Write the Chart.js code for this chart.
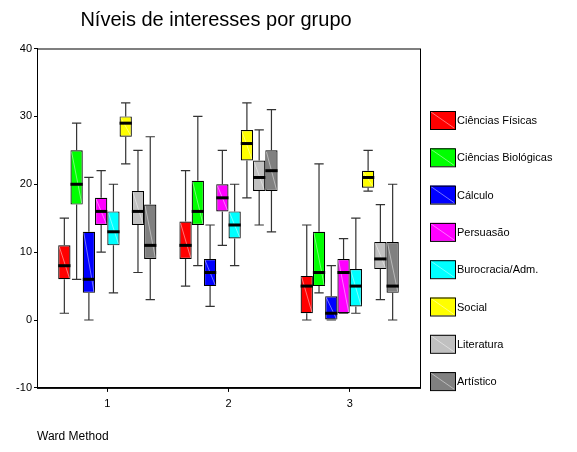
<!DOCTYPE html>
<html>
<head>
<meta charset="utf-8">
<script src="https://cdn.jsdelivr.net/npm/chart.js@4.4.1/dist/chart.umd.min.js"></script>
<style>
  html, body { margin: 0; padding: 0; background: #fff; }
  #wrap { width: 577px; height: 452px; }
</style>
</head>
<body>
<div id="wrap"><canvas id="grafico"></canvas></div>
<script>
// grupos do Ward Method (eixo x)
const grupos = [1, 2, 3];
// marcas do eixo y
const marcasY = [-10, 0, 10, 20, 30, 40];

// [mínimo, Q1, mediana, Q3, máximo] por grupo
const cienciasFisicas    = [[1, 6, 8, 11, 15],   [5, 9, 11, 14.5, 22],   [0, 1, 5, 6.5, 14]];
const cienciasBiologicas = [[6, 17, 20, 25, 29], [8, 14, 16, 20.5, 30],  [4, 5, 7, 13, 23]];
const calculo            = [[0, 4, 6, 13, 21],   [2, 5, 7, 9, 14],       [0, 0, 1, 3.5, 8]];
const persuasao          = [[10, 14, 16, 18, 22],[11, 16, 18, 20, 25],   [1, 1, 7, 9, 12]];
const burocracia         = [[4, 11, 13, 16, 20], [8, 12, 14, 16, 20],    [1, 2, 5, 7.5, 15]];
const social             = [[23, 27, 29, 30, 32],[18, 23.5, 26, 28, 32], [19, 19.5, 21, 22, 25]];
const literatura         = [[7, 14, 16, 19, 25], [14, 19, 21, 23.5, 28], [3, 7.5, 9, 11.5, 17]];
const artistico          = [[3, 9, 11, 17, 27],  [13, 19, 22, 25, 31],   [0, 4, 5, 11.5, 20]];

const nomes = ['Ciências Físicas', 'Ciências Biológicas', 'Cálculo', 'Persuasão',
               'Burocracia/Adm.', 'Social', 'Literatura', 'Artístico'];
const series = [cienciasFisicas, cienciasBiologicas, calculo, persuasao,
                burocracia, social, literatura, artistico];
const cores = ['#ff0000', '#00ff00', '#0000ff', '#ff00ff', '#00ffff', '#ffff00', '#c0c0c0', '#808080'];

const fonte = 'Liberation Sans, Arial, sans-serif';
Chart.defaults.font.family = fonte;
Chart.defaults.color = '#000';

// bigodes, medianas e a linha diagonal clara das caixas
const bigodes = {
  id: 'bigodes',
  afterDatasetsDraw(chart) {
    const ctx = chart.ctx, y = chart.scales.y;
    chart.data.datasets.forEach((ds, d) => {
      chart.getDatasetMeta(d).data.forEach((bar, i) => {
        const [mn, q1, md, q3, mx] = series[d][i];
        const x = bar.x, w = bar.width, cap = w * 0.38;
        const yTop = y.getPixelForValue(q3), yBot = y.getPixelForValue(q1);
        ctx.save();
        // diagonal clara
        ctx.strokeStyle = 'rgba(255,255,255,0.45)';
        ctx.lineWidth = 1;
        ctx.beginPath();
        ctx.moveTo(x - w / 2 + 1, yTop + 1);
        ctx.lineTo(x + w / 2 - 1, yBot - 1);
        ctx.stroke();
        // bigodes
        ctx.strokeStyle = '#333';
        ctx.lineWidth = 1.2;
        ctx.beginPath();
        ctx.moveTo(x, yTop); ctx.lineTo(x, y.getPixelForValue(mx));
        ctx.moveTo(x - cap, y.getPixelForValue(mx)); ctx.lineTo(x + cap, y.getPixelForValue(mx));
        ctx.moveTo(x, yBot); ctx.lineTo(x, y.getPixelForValue(mn));
        ctx.moveTo(x - cap, y.getPixelForValue(mn)); ctx.lineTo(x + cap, y.getPixelForValue(mn));
        ctx.stroke();
        // mediana
        ctx.strokeStyle = '#000';
        ctx.lineWidth = 3;
        ctx.beginPath();
        ctx.moveTo(x - w / 2, y.getPixelForValue(md));
        ctx.lineTo(x + w / 2, y.getPixelForValue(md));
        ctx.stroke();
        ctx.restore();
      });
    });
  }
};

// moldura da área do gráfico e legenda à direita
const moldura = {
  id: 'moldura',
  afterDraw(chart) {
    const ctx = chart.ctx, a = chart.chartArea;
    ctx.save();
    ctx.strokeStyle = '#000';
    ctx.lineWidth = 1;
    ctx.strokeRect(a.left + 0.5, a.top + 0.5, a.right - a.left, a.bottom - a.top);

    const x0 = a.right + 10, y0 = 111, passo = 37.3;
    ctx.font = '11px ' + fonte;
    ctx.textBaseline = 'middle';
    nomes.forEach((nome, i) => {
      const yy = y0 + i * passo;
      ctx.fillStyle = cores[i];
      ctx.fillRect(x0, yy, 25, 18);
      ctx.strokeStyle = 'rgba(255,255,255,0.45)';
      ctx.beginPath();
      ctx.moveTo(x0 + 1, yy + 1); ctx.lineTo(x0 + 24, yy + 17);
      ctx.stroke();
      ctx.strokeStyle = '#000';
      ctx.strokeRect(x0 + 0.5, yy + 0.5, 25, 18);
      ctx.fillStyle = '#000';
      ctx.fillText(nome, x0 + 27, yy + 10);
    });
    ctx.restore();
  }
};

new Chart(document.getElementById('grafico'), {
  type: 'bar',
  data: {
    datasets: series.map((s, d) => ({
      label: nomes[d],
      data: grupos.map((g, i) => ({ x: g, y: [s[i][1], s[i][3]] })),
      backgroundColor: cores[d],
      borderColor: '#000',
      borderWidth: 1.2,
      borderSkipped: false,
      categoryPercentage: 0.81,
      barPercentage: 1
    }))
  },
  options: {
    responsive: true,
    maintainAspectRatio: false,
    animation: false,
    layout: { padding: { left: 12, right: 157, top: 0, bottom: 0 } },
    plugins: {
      legend: { display: false },
      tooltip: { enabled: false },
      title: {
        display: true,
        text: 'Níveis de interesses por grupo',
        font: { size: 20, weight: 'normal' },
        padding: { top: 8, bottom: 16.5 }
      }
    },
    scales: {
      x: {
        type: 'linear',
        offset: false,
        min: 0.42,
        max: 3.58,
        afterBuildTicks(scale) { scale.ticks = grupos.map(v => ({ value: v })); },
        grid: { display: true, offset: false, drawOnChartArea: false, color: '#000', tickLength: 4 },
        border: { color: '#000' },
        ticks: { font: { size: 11 }, padding: 5 },
        title: {
          display: true,
          text: 'Ward Method',
          align: 'start',
          font: { size: 12 },
          padding: { top: 14.5, bottom: 8 }
        }
      },
      y: {
        min: marcasY[0],
        max: marcasY[marcasY.length - 1],
        afterBuildTicks(scale) { scale.ticks = marcasY.map(v => ({ value: v })); },
        afterFit(scale) { scale.width = 25; },
        grid: { display: true, drawOnChartArea: false, color: '#000', tickLength: 3 },
        border: { color: '#000' },
        ticks: { font: { size: 11 }, padding: 2 }
      }
    }
  },
  plugins: [bigodes, moldura]
});
</script>
</body>
</html>
